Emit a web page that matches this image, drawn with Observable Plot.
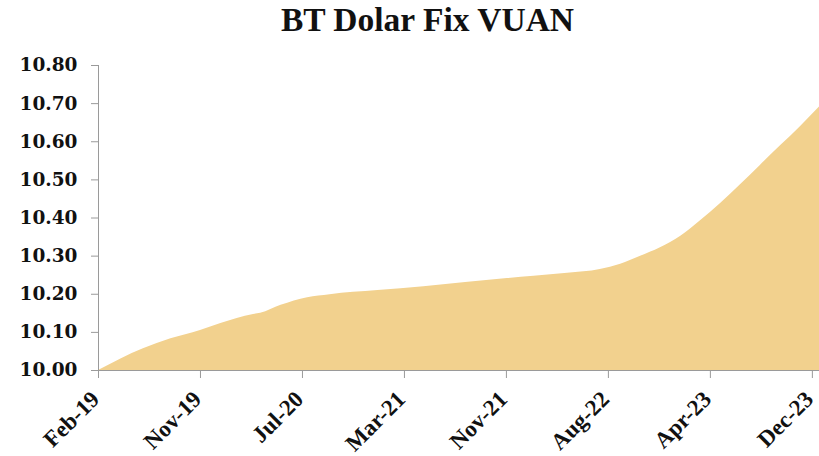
<!DOCTYPE html>
<html><head><meta charset="utf-8">
<script src="https://cdn.jsdelivr.net/npm/d3@7"></script>
<script src="https://cdn.jsdelivr.net/npm/@observablehq/plot@0.6"></script>
<style>
html,body{margin:0;padding:0;background:#fff;}
body{width:819px;height:456px;overflow:hidden;position:relative;}
#title{position:absolute;left:0;top:3px;width:855px;text-align:center;font-family:"Liberation Serif",serif;font-weight:bold;font-size:33.5px;line-height:33px;color:#111;}
#chart{position:absolute;left:0;top:44px;}
</style>
</head><body>
<div id="title">BT Dolar Fix VUAN</div>
<div id="chart"></div>
<script>
// Category tick labels (evenly spaced on the category axis)
const tickLabels = ["Feb-19","Nov-19","Jul-20","Mar-21","Nov-21","Aug-22","Apr-23","Dec-23"];
// Position along the axis, in tick-label units (0 = Feb-19, 7 = Dec-23)
const position = [0, 0.44, 0.71, 1.0, 1.2, 1.52, 1.59, 1.79, 2.05, 2.27, 2.5, 2.74, 3.19, 4.01, 4.27, 4.6, 4.92, 5.12, 5.31, 5.51, 5.71, 5.9, 6.1, 6.29, 6.49, 6.69, 6.88, 7.07];
// BT dollar fix value
const rate = [10.000, 10.057, 10.083, 10.105, 10.123, 10.147, 10.150, 10.171, 10.191, 10.199, 10.205, 10.210, 10.220, 10.241, 10.247, 10.255, 10.265, 10.279, 10.299, 10.322, 10.352, 10.392, 10.438, 10.486, 10.538, 10.590, 10.639, 10.691];
const yTicks = [10.0, 10.1, 10.2, 10.3, 10.4, 10.5, 10.6, 10.7, 10.8];

const data = position.map((p, i) => ({pos: p, rate: rate[i]}));
const tickIdx = d3.range(tickLabels.length);

const chart = Plot.plot({
  width: 819,
  height: 412,
  marginTop: 21,
  marginBottom: 86,
  marginLeft: 98,
  marginRight: 0,
  style: {background: "transparent", overflow: "visible"},
  x: {domain: [0, 7.07]},
  y: {domain: [10, 10.8]},
  marks: [
    Plot.areaY(data, {x: "pos", y1: 10, y2: "rate", fill: "#F2D18E", curve: "monotone-x"}),
    Plot.ruleY([10], {stroke: "#9a9a9a", strokeWidth: 1}),
    Plot.ruleX([0], {y1: 10, y2: 10.8, stroke: "#9a9a9a", strokeWidth: 1}),
    Plot.axisY({
      ticks: yTicks,
      tickFormat: d => d.toFixed(2),
      tickSize: 7,
      tickPadding: 14,
      stroke: "#9a9a9a",
      fill: "#111",
      fontFamily: "DejaVu Serif",
      fontWeight: "bold",
      fontSize: 18.5,
      label: null
    }),
    // x tick marks
    Plot.axisX({
      ticks: tickIdx,
      tickFormat: () => "",
      tickSize: 8,
      stroke: "#9a9a9a",
      label: null
    }),
    // x tick labels
    Plot.axisX({
      ticks: tickIdx,
      tickFormat: i => tickLabels[i],
      tickRotate: -45,
      tickSize: 0,
      tickPadding: 25,
      dx: -3,
      fill: "#111",
      fontFamily: "Liberation Serif",
      fontWeight: "bold",
      fontSize: 23,
      label: null
    })
  ]
});
document.getElementById("chart").appendChild(chart);
</script>
</body></html>
